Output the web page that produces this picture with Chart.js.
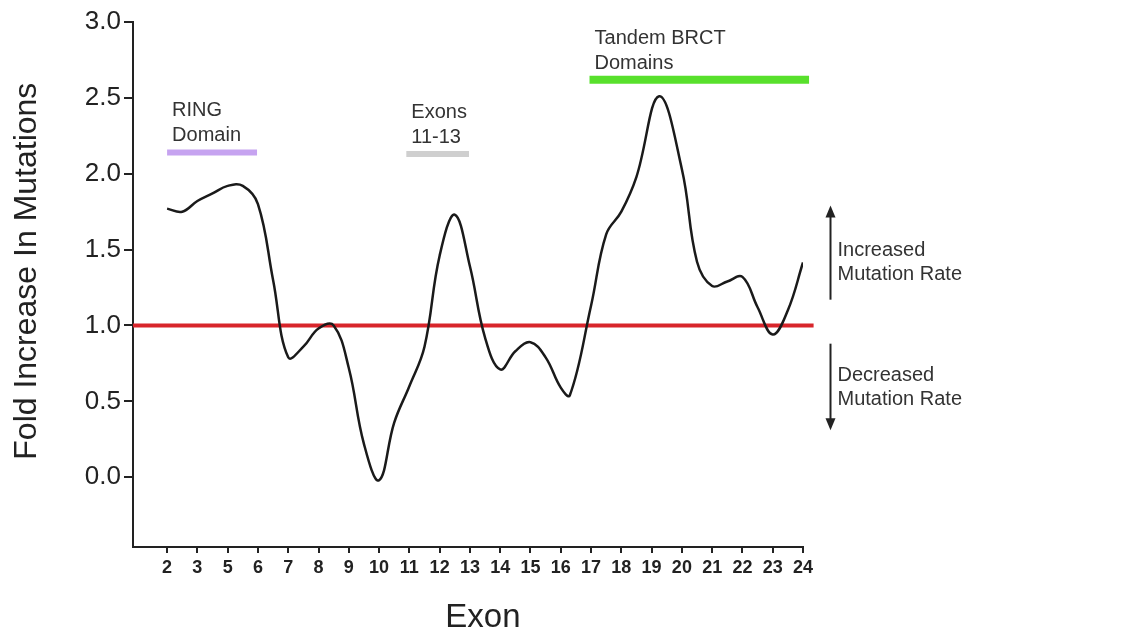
<!DOCTYPE html>
<html>
<head>
<meta charset="utf-8">
<title>BRCA1 exon mutation fold increase</title>
<script src="https://cdn.jsdelivr.net/npm/chart.js@4.4.1/dist/chart.umd.min.js"></script>
<style>
    html, body { margin: 0; padding: 0; background: #ffffff; }
    #wrap { position: relative; width: 1128px; height: 634px; }
</style>
</head>
<body>
<div id="wrap"><canvas id="exonChart"></canvas></div>
<script>
// Tick labels of the exon axis (exon 4 is not shown in the figure)
const exonLabels = ['2', '3', '5', '6', '7', '8', '9', '10', '11', '12', '13',
    '14', '15', '16', '17', '18', '19', '20', '21', '22', '23', '24'];
const yTicks = [0, 0.5, 1.0, 1.5, 2.0, 2.5, 3.0];

// Smoothed curve; position is in exon-tick index units
const samplePos = [0, 0.5, 1, 1.5, 2, 2.5, 3, 3.5, 4, 4.5, 5, 5.5, 6, 6.5, 7, 7.5,
    8, 8.5, 9, 9.5, 10, 10.5, 11, 11.5, 12, 12.5, 13, 13.3, 14, 14.5, 15, 15.5,
    16.25, 17, 17.5, 18, 18.5, 19, 19.5, 20, 20.5, 21];
const foldIncrease = [1.77, 1.75, 1.82, 1.87, 1.92, 1.92, 1.80, 1.30, 0.79, 0.86,
    0.98, 1.00, 0.72, 0.22, -0.02, 0.36, 0.60, 0.86, 1.46, 1.73, 1.39, 0.92, 0.71,
    0.83, 0.89, 0.79, 0.59, 0.54, 1.13, 1.60, 1.75, 1.98, 2.51, 2.03, 1.42, 1.26,
    1.29, 1.32, 1.12, 0.94, 1.10, 1.415];

// Baseline (no change in mutation rate)
const baselineFold = 1.0;

// Protein domain bars
const domainNames = [['RING', 'Domain'], ['Exons', '11-13'], ['Tandem BRCT', 'Domains']];
const domainStart = [0, 7.9, 13.95];
const domainEnd = [2.97, 9.97, 21.2];
const domainLevel = [2.14, 2.13, 2.62];

// Side arrows
const rateLabels = [['Increased', 'Mutation Rate'], ['Decreased', 'Mutation Rate']];
const rateArrowFrom = [1.17, 0.88];
const rateArrowTo = [1.79, 0.31];

const FONT = '"Liberation Sans", Arial, Helvetica, sans-serif';
const INK = '#222222';
const domainColors = ['#c6a3f0', '#cfcfcf', '#58e02c'];
const domainWidths = [6, 6, 8];

const xMin = -1.126;
const xMax = 21;

const exonAnnotations = {
    id: 'exonAnnotations',
    afterDatasetsDraw(chart) {
        const { ctx, chartArea, scales: { x, y } } = chart;
        ctx.save();
        ctx.fillStyle = '#333333';
        ctx.textBaseline = 'alphabetic';
        ctx.textAlign = 'left';
        ctx.font = `20px ${FONT}`;

        // domain captions above each bar
        domainNames.forEach((lines, i) => {
            const left = x.getPixelForValue(domainStart[i]) + 5;
            const base = y.getPixelForValue(domainLevel[i]) - 11;
            lines.forEach((line, j) => {
                ctx.fillText(line, left, base - (lines.length - 1 - j) * 25);
            });
        });

        // increased / decreased arrows
        const ax = Math.round(x.getPixelForValue(21.9)) + 0.5;
        ctx.strokeStyle = INK;
        ctx.fillStyle = INK;
        ctx.lineWidth = 2;
        rateArrowFrom.forEach((from, i) => {
            const y0 = y.getPixelForValue(from);
            const y1 = y.getPixelForValue(rateArrowTo[i]);
            const dir = y1 < y0 ? -1 : 1;
            ctx.beginPath();
            ctx.moveTo(ax, y0);
            ctx.lineTo(ax, y1 - dir * 10);
            ctx.stroke();
            ctx.beginPath();
            ctx.moveTo(ax, y1);
            ctx.lineTo(ax - 5, y1 - dir * 12);
            ctx.lineTo(ax + 5, y1 - dir * 12);
            ctx.closePath();
            ctx.fill();
        });

        ctx.fillStyle = '#333333';
        rateLabels.forEach((lines, i) => {
            const top = Math.min(y.getPixelForValue(rateArrowFrom[i]), y.getPixelForValue(rateArrowTo[i]));
            const base = i === 0 ? top + 50 : top + 37;
            lines.forEach((line, j) => ctx.fillText(line, ax + 7, base + j * 24));
        });

        // x axis title
        ctx.fillStyle = INK;
        ctx.textAlign = 'center';
        ctx.font = `33px ${FONT}`;
        ctx.fillText('Exon', x.getPixelForValue(10.43), chartArea.bottom + 80);
        ctx.restore();
    }
};

class ExonMutationChart {
    constructor(canvasId) {
        this.canvas = document.getElementById(canvasId);
        this.chart = null;
    }

    buildDatasets() {
        const curve = {
            label: 'Fold increase',
            data: samplePos.map((p, i) => ({ x: p, y: foldIncrease[i] })),
            borderColor: '#1a1a1a',
            borderWidth: 2.5,
            pointRadius: 0,
            tension: 0.4,
            order: 0
        };
        const baseline = {
            label: 'Baseline',
            data: [{ x: xMin, y: baselineFold }, { x: 21.35, y: baselineFold }],
            borderColor: '#d8252b',
            borderWidth: 4,
            pointRadius: 0,
            clip: false,
            order: 1
        };
        const domains = domainNames.map((name, i) => ({
            label: name.join(' '),
            data: [{ x: domainStart[i], y: domainLevel[i] }, { x: domainEnd[i], y: domainLevel[i] }],
            borderColor: domainColors[i],
            borderWidth: domainWidths[i],
            borderCapStyle: 'butt',
            pointRadius: 0,
            clip: false,
            order: 2
        }));
        return [curve, baseline, ...domains];
    }

    init() {
        this.chart = new Chart(this.canvas, {
            type: 'line',
            data: { datasets: this.buildDatasets() },
            options: {
                responsive: true,
                maintainAspectRatio: false,
                animation: false,
                layout: { padding: { top: 22, right: 325, bottom: 0, left: 6 } },
                plugins: {
                    legend: { display: false },
                    tooltip: { enabled: false }
                },
                scales: {
                    x: {
                        type: 'linear',
                        min: xMin,
                        max: xMax,
                        afterBuildTicks: (scale) => {
                            scale.ticks = exonLabels.map((_, i) => ({ value: i }));
                        },
                        afterFit: (scale) => { scale.height = 87; },
                        border: { display: true, color: INK, width: 2 },
                        grid: { drawOnChartArea: false, drawTicks: true, tickLength: 6, color: INK, lineWidth: 2 },
                        ticks: {
                            autoSkip: false,
                            maxRotation: 0,
                            padding: 4,
                            color: INK,
                            font: { family: FONT, size: 18, weight: 'bold' },
                            callback: (value) => exonLabels[value]
                        }
                    },
                    y: {
                        min: -0.46,
                        max: 3.0,
                        afterBuildTicks: (scale) => {
                            scale.ticks = yTicks.map(v => ({ value: v }));
                        },
                        afterFit: (scale) => { scale.width = 127; },
                        border: { display: true, color: INK, width: 2 },
                        grid: { drawOnChartArea: false, drawTicks: true, tickLength: 9, color: INK, lineWidth: 2 },
                        ticks: {
                            padding: 3,
                            color: INK,
                            font: { family: FONT, size: 26 },
                            callback: (value) => Number(value).toFixed(1)
                        },
                        title: {
                            display: true,
                            // leading spaces nudge the rotated title up a little, as in the figure
                            text: '   Fold Increase In Mutations',
                            color: INK,
                            font: { family: FONT, size: 32 },
                            padding: { top: 2, bottom: 2 }
                        }
                    }
                }
            },
            plugins: [exonAnnotations]
        });
    }
}

document.addEventListener('DOMContentLoaded', () => {
    const page = new ExonMutationChart('exonChart');
    page.init();
});
</script>
</body>
</html>
